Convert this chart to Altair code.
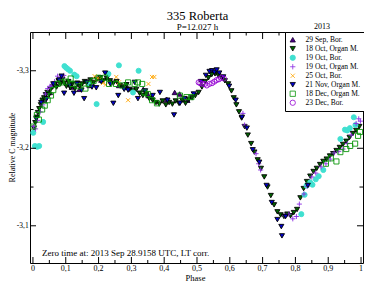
import altair as alt
import pandas as pd

FONT = "Liberation Serif"

chart_title = "335 Roberta"
chart_subtitle = "P=12.027 h"
year_label = "2013"
zero_time_note = "Zero time at: 2013 Sep 28.9158 UTC, LT corr."
x_title = "Phase"
y_title = "Relative C magnitude"

series_names = [
    "29 Sep, Bor.",
    "18 Oct, Organ M.",
    "19 Oct, Bor.",
    "19 Oct, Organ M.",
    "25 Oct, Bor.",
    "21 Nov, Organ M.",
    "18 Dec, Organ M.",
    "23 Dec, Bor.",
]

ph_29sep = [0.035, 0.052, 0.068, 0.083, 0.118, 0.142, 0.172, 0.208, 0.262, 0.287,
            0.336, 0.352, 0.408, 0.432, 0.447, 0.471]
mg_29sep = [-3.262, -3.272, -3.284, -3.287, -3.279, -3.276, -3.281, -3.288, -3.281, -3.279,
            -3.276, -3.268, -3.263, -3.272, -3.270, -3.262]

ph_18oct = [0.003, 0.007, 0.011, 0.015, 0.019, 0.024, 0.029, 0.034, 0.039, 0.044,
            0.049, 0.054, 0.060, 0.066, 0.072, 0.078, 0.084, 0.090, 0.096, 0.102,
            0.108, 0.114, 0.120, 0.128, 0.135, 0.142, 0.150, 0.158, 0.166, 0.175,
            0.185, 0.195, 0.205, 0.215, 0.225, 0.235, 0.245, 0.255, 0.265, 0.275,
            0.285, 0.295, 0.305, 0.315, 0.325, 0.335, 0.345, 0.355, 0.365, 0.375,
            0.385, 0.395, 0.405, 0.415, 0.425, 0.435, 0.445, 0.455, 0.465, 0.475,
            0.485, 0.495, 0.505, 0.515, 0.525, 0.535, 0.545, 0.555, 0.565, 0.575,
            0.585, 0.595, 0.605, 0.612, 0.620, 0.628, 0.636, 0.645, 0.655, 0.665,
            0.675, 0.685, 0.695, 0.705, 0.715, 0.725, 0.735, 0.745, 0.755, 0.765,
            0.775, 0.785, 0.795, 0.805, 0.815, 0.825, 0.835, 0.845, 0.855, 0.865,
            0.875, 0.885, 0.895, 0.905, 0.915, 0.925, 0.935, 0.945, 0.955, 0.965,
            0.975, 0.985, 0.995]
mg_18oct = [-3.226, -3.233, -3.240, -3.246, -3.251, -3.256, -3.262, -3.265, -3.269, -3.272,
            -3.269, -3.276, -3.279, -3.282, -3.279, -3.287, -3.283, -3.289, -3.284, -3.280,
            -3.286, -3.278, -3.283, -3.277, -3.284, -3.280, -3.283, -3.286, -3.283, -3.288,
            -3.285, -3.289, -3.291, -3.287, -3.290, -3.287, -3.284, -3.286, -3.281, -3.279,
            -3.282, -3.276, -3.274, -3.276, -3.271, -3.268, -3.270, -3.264, -3.262, -3.259,
            -3.257, -3.261, -3.256, -3.259, -3.257, -3.261, -3.258, -3.262, -3.258, -3.263,
            -3.265, -3.268, -3.272, -3.279, -3.286, -3.291, -3.295, -3.296, -3.294, -3.291,
            -3.287, -3.283, -3.274, -3.265, -3.256, -3.247, -3.239, -3.228, -3.217, -3.206,
            -3.195, -3.185, -3.174, -3.163, -3.150, -3.139, -3.127, -3.118, -3.114, -3.112,
            -3.115, -3.113, -3.117, -3.121, -3.136, -3.148, -3.157, -3.164, -3.170, -3.174,
            -3.179, -3.183, -3.186, -3.190, -3.193, -3.197, -3.201, -3.205, -3.209, -3.214,
            -3.219, -3.223, -3.228]

ph_19oct_bor = [0.001, 0.006, 0.013, 0.019, 0.031, 0.096, 0.101, 0.107, 0.113, 0.126,
                0.133, 0.170, 0.194, 0.230, 0.262, 0.305, 0.322, 0.818, 0.828, 0.834,
                0.845, 0.852, 0.862, 0.871, 0.885, 0.937, 0.951, 0.958, 0.966, 0.978,
                0.983]
mg_19oct_bor = [-3.220, -3.203, -3.202, -3.203, -3.234, -3.306, -3.304, -3.302, -3.300, -3.295,
                -3.293, -3.284, -3.257, -3.296, -3.307, -3.272, -3.300, -3.115, -3.140, -3.152,
                -3.156, -3.153, -3.160, -3.164, -3.172, -3.212, -3.224, -3.223, -3.226, -3.240,
                -3.230]

ph_19oct_org = [0.002, 0.008, 0.014, 0.022, 0.030, 0.038, 0.045, 0.052, 0.058, 0.066,
                0.075, 0.085, 0.094, 0.640, 0.645, 0.680, 0.688, 0.694, 0.768, 0.780,
                0.792, 0.803, 0.812, 0.826, 0.836, 0.850, 0.862, 0.878, 0.893, 0.906,
                0.918, 0.932, 0.945, 0.958, 0.970, 0.985, 0.993, 0.998]
mg_19oct_org = [-3.228, -3.225, -3.236, -3.247, -3.256, -3.270, -3.277, -3.280, -3.281, -3.286,
                -3.293, -3.291, -3.294, -3.245, -3.230, -3.193, -3.180, -3.172, -3.113, -3.115,
                -3.109, -3.112, -3.128, -3.141, -3.151, -3.163, -3.168, -3.176, -3.180, -3.186,
                -3.194, -3.196, -3.199, -3.206, -3.217, -3.232, -3.238, -3.235]

ph_25oct = [0.188, 0.196, 0.203, 0.213, 0.222, 0.254, 0.262, 0.290, 0.352, 0.363, 0.370]
mg_25oct = [-3.293, -3.290, -3.289, -3.284, -3.282, -3.292, -3.285, -3.262, -3.283, -3.292, -3.292]

ph_21nov = [0.010, 0.025, 0.042, 0.062, 0.080, 0.087, 0.095, 0.112, 0.125, 0.134,
            0.148, 0.156, 0.164, 0.180, 0.193, 0.208, 0.220, 0.236, 0.245, 0.260,
            0.278, 0.290, 0.310, 0.320, 0.342, 0.365, 0.387, 0.410, 0.430, 0.448,
            0.462, 0.490, 0.512, 0.527, 0.538, 0.546, 0.553, 0.560, 0.568, 0.580,
            0.598, 0.618, 0.637, 0.652, 0.670, 0.690, 0.712, 0.728, 0.745, 0.757,
            0.759, 0.770, 0.838]
mg_21nov = [-3.238, -3.259, -3.264, -3.283, -3.288, -3.293, -3.271, -3.281, -3.271, -3.283,
            -3.275, -3.264, -3.285, -3.279, -3.278, -3.286, -3.297, -3.283, -3.258, -3.268,
            -3.276, -3.275, -3.285, -3.264, -3.274, -3.268, -3.272, -3.262, -3.243, -3.258,
            -3.264, -3.270, -3.286, -3.294, -3.299, -3.300, -3.298, -3.301, -3.297, -3.292,
            -3.280, -3.262, -3.240, -3.226, -3.198, -3.182, -3.152, -3.130, -3.108, -3.099,
            -3.087, -3.112, -3.152]

ph_18dec = [0.001, 0.012, 0.018, 0.028, 0.036, 0.045, 0.055, 0.062, 0.075, 0.087,
            0.100, 0.115, 0.120, 0.140, 0.160, 0.170, 0.185, 0.200, 0.220, 0.232,
            0.253, 0.272, 0.290, 0.310, 0.320, 0.333, 0.340, 0.350, 0.363, 0.378,
            0.448, 0.468, 0.483, 0.893, 0.908, 0.925, 0.937, 0.955, 0.967, 0.982,
            0.991, 0.997]
mg_18dec = [-3.228, -3.243, -3.237, -3.250, -3.255, -3.262, -3.268, -3.275, -3.283, -3.285,
            -3.286, -3.290, -3.283, -3.280, -3.277, -3.283, -3.287, -3.291, -3.291, -3.283,
            -3.283, -3.281, -3.285, -3.283, -3.285, -3.283, -3.272, -3.270, -3.262, -3.258,
            -3.268, -3.266, -3.266, -3.180, -3.187, -3.183, -3.195, -3.199, -3.203, -3.206,
            -3.216, -3.221]

ph_23dec = [0.505, 0.510, 0.517, 0.524, 0.530, 0.538, 0.546, 0.553, 0.560, 0.567, 0.574, 0.582]
mg_23dec = [-3.285, -3.284, -3.283, -3.283, -3.281, -3.283, -3.284, -3.286, -3.288, -3.289,
            -3.291, -3.290]

x_major = [0, 0.1, 0.2, 0.3, 0.4, 0.5, 0.6, 0.7, 0.8, 0.9, 1]
x_tick_labels = ["0", "0,1", "0,2", "0,3", "0,4", "0,5", "0,6", "0,7", "0,8", "0,9", "1"]
x_minor = [0.05, 0.15, 0.25, 0.35, 0.45, 0.55, 0.65, 0.75, 0.85, 0.95]
y_major = [-3.3, -3.2, -3.1]
y_tick_labels = ["-3,3", "-3,2", "-3,1"]
y_minor = [-3.25, -3.15]

# ---- styling ----
shapes = ["triangle-up", "triangle-down", "circle", "M-1,0L1,0M0,-1L0,1",
          "M-0.8,-0.8L0.8,0.8M-0.8,0.8L0.8,-0.8", "triangle-down", "square", "circle"]
fills = ["#4B0082", "#006400", "#40E0D0", "transparent", "transparent", "#0000CD",
         "transparent", "transparent"]
strokes = ["#1A0033", "#000000", "#40E0D0", "#8A2BE2", "#FFA500", "#000000", "#0A960A", "#9400D3"]

W, H = 333, 231

all_ph = [ph_29sep, ph_18oct, ph_19oct_bor, ph_19oct_org, ph_25oct, ph_21nov, ph_18dec, ph_23dec]
all_mg = [mg_29sep, mg_18oct, mg_19oct_bor, mg_19oct_org, mg_25oct, mg_21nov, mg_18dec, mg_23dec]
rows = []
for name, phs, mgs in zip(series_names, all_ph, all_mg):
    for p, m in zip(phs, mgs):
        rows.append({"series": name, "phase": p, "mag": m})
df = pd.DataFrame(rows)

x_scale = alt.Scale(domain=[-0.009, 1.006], nice=False, zero=False)
y_scale = alt.Scale(domain=[-3.35, -3.052], nice=False, zero=False, reverse=True)

def make_legend():
    return alt.Legend(orient="none", legendX=W - 78, legendY=0)

points = alt.Chart(df).mark_point(filled=True, opacity=1, size=26, strokeWidth=0.9).encode(
    x=alt.X("phase:Q", scale=x_scale, axis=None),
    y=alt.Y("mag:Q", scale=y_scale, axis=None),
    shape=alt.Shape("series:N", scale=alt.Scale(domain=series_names, range=shapes), title=None,
                    legend=make_legend()),
    fill=alt.Fill("series:N", scale=alt.Scale(domain=series_names, range=fills), title=None,
                  legend=make_legend()),
    stroke=alt.Stroke("series:N", scale=alt.Scale(domain=series_names, range=strokes), title=None,
                      legend=make_legend()),
)

def xticks(vals, y1, y2):
    return alt.Chart(pd.DataFrame({"phase": vals})).mark_rule(color="black", strokeWidth=1).encode(
        x=alt.X("phase:Q", scale=x_scale, axis=None), y=alt.value(y1), y2=alt.value(y2))

def yticks(vals, x1, x2):
    return alt.Chart(pd.DataFrame({"mag": vals})).mark_rule(color="black", strokeWidth=1).encode(
        y=alt.Y("mag:Q", scale=y_scale, axis=None), x=alt.value(x1), x2=alt.value(x2))

tick_layers = [
    xticks(x_major, H, H - 6), xticks(x_minor, H, H - 3),
    xticks(x_major, 0, 7), xticks(x_minor, 0, 3.5),
    yticks(y_major, 0, 6), yticks(y_minor, 0, 3.5),
    yticks(y_major, W, W - 6), yticks(y_minor, W, W - 3.5),
]

x_labels = alt.Chart(pd.DataFrame({"phase": x_major, "lab": x_tick_labels})).mark_text(
    font=FONT, fontSize=8, baseline="top", align="center", color="black"
).encode(x=alt.X("phase:Q", scale=x_scale, axis=None), y=alt.value(H + 2), text="lab:N")

y_labels = alt.Chart(pd.DataFrame({"mag": y_major, "lab": y_tick_labels})).mark_text(
    font=FONT, fontSize=7.5, baseline="middle", align="right", color="black"
).encode(y=alt.Y("mag:Q", scale=y_scale, axis=None), x=alt.value(-1.3), text="lab:N")

def label(text, x, y, size, align="center", angle=0):
    return alt.Chart(pd.DataFrame({"t": [text]})).mark_text(
        font=FONT, fontSize=size, align=align, baseline="alphabetic", color="black", angle=angle
    ).encode(text="t:N", x=alt.value(x), y=alt.value(y))

texts = [
    label(chart_title, W / 2 + 1, -12.5, 12.5),
    label(chart_subtitle, W / 2 + 1, -2, 9),
    label(year_label, W - 41, -3, 8),
    label(zero_time_note, 12, H - 7, 9, align="left"),
    label(x_title, W / 2 - 1, H + 18.2, 8.5),
    label(y_title, -14.8, H / 2, 8, angle=270),
]

chart = alt.layer(points, *tick_layers, x_labels, y_labels, *texts).properties(
    width=W, height=H,
    autosize=alt.AutoSizeParams(type="none"),
    padding={"left": 22, "top": 24, "right": 1, "bottom": 20},
).configure_view(stroke="black", strokeWidth=1).configure_legend(
    strokeColor="black", fillColor="white", padding=4, rowPadding=0,
    labelFont=FONT, labelFontSize=7.5, labelOffset=9, symbolSize=28,
    symbolStrokeWidth=0.8, labelLimit=200, cornerRadius=0, strokeWidth=1,
)

chart.save("out.html", embed_options={"renderer": "svg", "actions": False})
